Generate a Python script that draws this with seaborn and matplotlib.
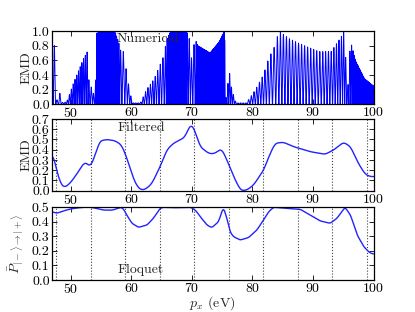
import numpy as np
import pandas as pd
import matplotlib
matplotlib.use("Agg")
import matplotlib.pyplot as plt
import seaborn as sns

# -------------------------
# DATA
# -------------------------
# Numerical EMD: upper envelope of the fringes and local fringe spacing (eV)
num_x = [46.86, 47.1, 47.31, 47.55, 47.9, 48.2, 48.5, 48.9, 49.4, 50.5, 51.5, 52.1, 52.75,
         53.1, 53.5, 54.0, 54.3, 55.0, 57.3, 57.9, 58.3, 58.7, 59.3, 59.7, 60.2, 61.5,
         62.5, 63.8, 65.3, 65.9, 66.5, 69.0, 69.5, 70.0, 70.5, 71.0, 73.0, 74.5, 75.4,
         75.6, 76.2, 76.6, 77.3, 79.0, 80.5, 81.8, 82.7, 83.6, 84.4, 86.0, 88.0, 91.0,
         93.0, 94.5, 95.2, 95.7, 96.2, 97.0, 98.5, 100.0]
num_env = [1.0, 0.9, 0.8, 0.1, 0.03, 0.15, 0.03, 0.02, 0.05, 0.3, 0.5, 0.62, 0.72,
           0.2, 0.25, 0.05, 0.97, 1.0, 1.0, 0.85, 0.72, 0.72, 0.4, 0.2, 0.02, 0.02,
           0.2, 0.35, 0.65, 0.9, 1.0, 1.0, 0.95, 0.6, 0.9, 0.8, 0.7, 0.85, 1.0,
           0.05, 0.45, 0.2, 0.02, 0.02, 0.2, 0.4, 0.63, 0.78, 1.0, 0.9, 0.82, 0.72,
           0.72, 0.9, 1.0, 0.15, 0.87, 0.6, 0.35, 0.25]
num_period = [0.45, 0.45, 0.45, 0.45, 0.45, 0.45, 0.45, 0.4, 0.35, 0.3, 0.28, 0.28, 0.3,
              0.35, 0.4, 0.3, 0.2, 0.15, 0.15, 0.2, 0.4, 0.5, 0.4, 0.4, 0.4, 0.4,
              0.4, 0.4, 0.45, 0.25, 0.15, 0.15, 0.35, 0.4, 0.4, 0.12, 0.1, 0.1, 0.1,
              0.3, 0.3, 0.3, 0.4, 0.45, 0.45, 0.45, 0.5, 0.55, 0.5, 0.5, 0.5, 0.5,
              0.45, 0.4, 0.35, 0.35, 0.3, 0.12, 0.1, 0.1]

# Filtered EMD
filt_x = [46.86, 47.6, 48.3, 49.0, 50.0, 51.2, 52.25, 52.8, 53.3, 53.9, 54.8, 55.95, 57.3,
          58.4, 59.2, 60.35, 61.0, 61.7, 62.5, 63.4, 64.76, 65.86, 66.96, 68.07, 68.9,
          69.4, 69.8, 70.15, 70.55, 71.37, 72.75, 73.6, 74.3, 74.9, 75.8, 76.9, 78.0,
          78.4, 79.2, 80.2, 81.85, 82.95, 83.77, 85.1, 86.8, 89.55, 92.0, 93.4, 95.06,
          96.2, 97.5, 98.6, 99.3, 100.0]
filt_y = [0.40, 0.22, 0.07, 0.03, 0.08, 0.18, 0.277, 0.26, 0.234, 0.33, 0.485, 0.50, 0.488,
          0.446, 0.33, 0.12, 0.04, 0.005, 0.02, 0.07, 0.234, 0.397, 0.463, 0.495, 0.527,
          0.60, 0.645, 0.63, 0.576, 0.43, 0.365, 0.36, 0.385, 0.41, 0.30, 0.137, 0.01,
          0.0, 0.01, 0.056, 0.20, 0.365, 0.463, 0.473, 0.43, 0.381, 0.355, 0.397, 0.473,
          0.43, 0.267, 0.163, 0.14, 0.137]

# Floquet transition probability
floq_x = [46.86, 47.7, 48.8, 49.9, 51.0, 52.1, 53.3, 54.3, 55.4, 56.8, 57.6, 58.2, 58.7,
          59.25, 60.1, 61.2, 62.6, 63.65, 64.76, 65.3, 67.0, 69.8, 70.6, 71.4, 72.5, 73.3,
          74.4, 75.2, 75.8, 76.3, 76.88, 77.98, 79.35, 80.75, 81.85, 82.7, 83.5, 85.7,
          87.9, 89.55, 91.2, 92.85, 93.96, 95.3, 96.2, 97.3, 98.4, 99.3, 100.0]
floq_y = [0.47, 0.459, 0.475, 0.488, 0.495, 0.5, 0.5, 0.492, 0.481, 0.48, 0.49, 0.5, 0.49,
          0.447, 0.39, 0.362, 0.378, 0.424, 0.493, 0.5, 0.497, 0.5, 0.48, 0.435, 0.378, 0.36,
          0.40, 0.5, 0.424, 0.332, 0.298, 0.275, 0.291, 0.344, 0.413, 0.47, 0.5, 0.493,
          0.486, 0.447, 0.406, 0.39, 0.424, 0.5, 0.447, 0.31, 0.229, 0.19, 0.177]

# Dotted guide lines (eV)
guide_x = [47.6, 53.3, 59.0, 64.7, 70.4, 76.1, 81.8, 87.5, 93.2, 98.9]

XMIN, XMAX = 46.86, 100.0

# -------------------------
# BUILD CURVES
# -------------------------
xs = np.linspace(XMIN, XMAX, 40000)
dx = xs[1] - xs[0]
env = np.interp(xs, num_x, num_env)
per = np.interp(xs, num_x, num_period)
phase = 0.5 + np.cumsum(1.0 / per) * dx - dx / per[0]
num_df = pd.DataFrame({"px": xs, "emd": env * np.sin(np.pi * phase) ** 2})

xf = np.linspace(XMIN, XMAX, 1500)
filt_df = pd.DataFrame({"px": xf, "emd": np.interp(xf, filt_x, filt_y)})
filt_df["emd"] = filt_df["emd"].rolling(25, center=True, min_periods=1).mean()
floq_df = pd.DataFrame({"px": xf, "p": np.minimum(np.interp(xf, floq_x, floq_y), 0.5)})
floq_df["p"] = floq_df["p"].rolling(15, center=True, min_periods=1).mean()

# -------------------------
# STYLE
# -------------------------
sns.set_theme(style="ticks")
plt.rcParams.update({
    "font.family": "serif",
    "font.serif": ["cmr10", "DejaVu Serif"],
    "mathtext.fontset": "cm",
    "axes.formatter.use_mathtext": True,
    "font.size": 10,
    "axes.labelsize": 10,
    "xtick.labelsize": 10,
    "ytick.labelsize": 10,
    "axes.edgecolor": "black",
    "axes.linewidth": 0.9,
    "xtick.direction": "in",
    "ytick.direction": "in",
    "xtick.top": True,
    "ytick.right": True,
    "xtick.major.size": 3.5,
    "ytick.major.size": 3.5,
    "xtick.major.width": 0.6,
    "ytick.major.width": 0.6,
    "xtick.major.pad": 1.5,
    "ytick.major.pad": 1.5,
    "xtick.color": "black",
    "ytick.color": "black",
})

fig = plt.figure(figsize=(4.15, 3.12), dpi=100)
L, W = 0.1246, 0.7754
ax1 = fig.add_axes([L, 0.6657, W, 0.2349])
ax2 = fig.add_axes([L, 0.3888, W, 0.2298])
ax3 = fig.add_axes([L, 0.1026, W, 0.2330])

sns.lineplot(data=num_df, x="px", y="emd", ax=ax1, color="#0000ff", lw=0.7,
             estimator=None, sort=False)
sns.lineplot(data=filt_df, x="px", y="emd", ax=ax2, color="#2222ff", lw=1.0,
             estimator=None, sort=False)
sns.lineplot(data=floq_df, x="px", y="p", ax=ax3, color="#2222ff", lw=1.0,
             estimator=None, sort=False)

for ax in (ax2, ax3):
    for g in guide_x:
        ax.axvline(g, color="0.25", ls=":", lw=0.8, zorder=0)

ax1.set_ylim(0, 1.0)
ax1.set_yticks(np.arange(0, 1.01, 0.2))
ax2.set_ylim(0, 0.7)
ax2.set_yticks(np.arange(0, 0.71, 0.1))
ax3.set_ylim(0, 0.5)
ax3.set_yticks(np.arange(0, 0.51, 0.1))

for ax in (ax1, ax2, ax3):
    ax.set_xlim(XMIN, XMAX)
    ax.set_xticks([50, 60, 70, 80, 90, 100])
    ax.yaxis.set_major_formatter(matplotlib.ticker.FormatStrFormatter("%.1f"))
    ax.set_xlabel("")

ax1.set_ylabel("EMD")
ax2.set_ylabel("EMD")
ax3.set_ylabel(r"$\bar{P}_{|-\rangle\to|+\rangle}$")
ax1.yaxis.set_label_coords(-0.058, 0.5)
ax2.yaxis.set_label_coords(-0.058, 0.5)
ax3.yaxis.set_label_coords(-0.08, 0.5)
ax3.set_xlabel(r"$p_x$ (eV)")
ax3.xaxis.set_label_coords(0.5, -0.19)

ax1.text(57.6, 0.97, "Numerical", va="top", ha="left", zorder=5)
ax2.text(57.7, 0.61, "Filtered", va="center", ha="left", zorder=5)
ax3.text(57.7, 0.07, "Floquet", va="center", ha="left", zorder=5)

fig.savefig("out.png", dpi=100)
